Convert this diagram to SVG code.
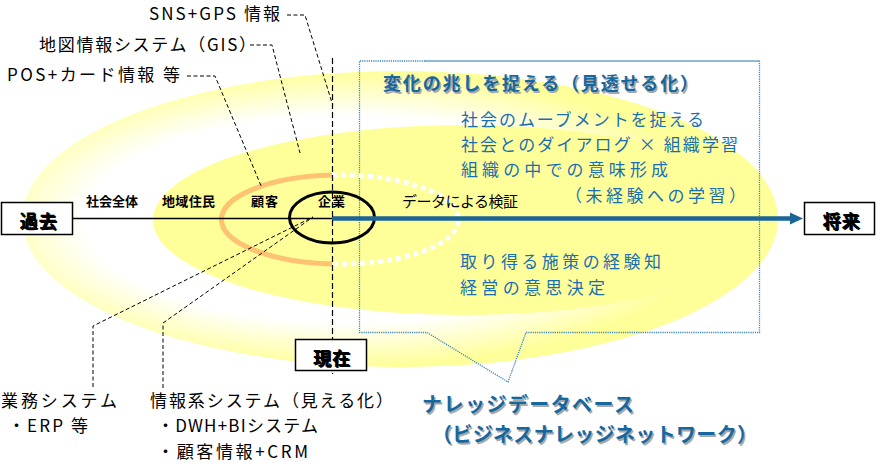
<svg xmlns="http://www.w3.org/2000/svg" width="877" height="465" viewBox="0 0 877 465">
<style>
text{font-family:"Noto Sans CJK JP","Noto Sans",sans-serif;}
.lbl{font-size:17px;fill:#000;}
.blue{font-size:17px;fill:#1a6fb0;}
.head{font-size:18px;font-weight:bold;fill:#17679f;}
.kdb{font-size:20px;font-weight:bold;fill:#17679f;}
.sh{fill:#a8a8a8;}
.bsh{fill:#c4c4c4;}
.ring{font-size:13px;font-weight:bold;fill:#000;}
.box{fill:#fff;stroke:#000;stroke-width:1.5;}
.boxt{font-size:18px;font-weight:bold;fill:#000;text-anchor:middle;}
.lead{fill:none;stroke:#000;stroke-width:1;stroke-dasharray:4 2.5;}
.cdot{fill:none;stroke:#3f86b8;stroke-width:1.3;stroke-dasharray:1.2 1;}
</style>
<defs>
<radialGradient id="outerG" cx="0.43" cy="0.5" r="0.5">
<stop offset="0" stop-color="#ffffff"/>
<stop offset="0.7" stop-color="#ffffff"/>
<stop offset="1" stop-color="#ffff99"/>
</radialGradient>
</defs>
<rect width="877" height="465" fill="#fff"/>
<g id="spheres">
<ellipse cx="400" cy="219" rx="378" ry="148" fill="url(#outerG)"/>
<ellipse cx="464" cy="220" rx="311" ry="95" fill="#ffff99"/>
</g>
<g id="callout">
<path class="cdot" d="M425,61 H359.5 V332.5 H427 L508,382 L526,332.5 H759.5 V61"/>
<line x1="425" y1="61" x2="760" y2="61" stroke="#6aa3c9" stroke-width="1.6"/>
<text class="head sh" x="384.5" y="91.5" textLength="315" lengthAdjust="spacing">変化の兆しを捉える（見透せる化）</text>
<text class="head" x="383" y="90" textLength="315" lengthAdjust="spacing">変化の兆しを捉える（見透せる化）</text>
<text class="blue" x="461" y="126" textLength="243" lengthAdjust="spacing">社会のムーブメントを捉える</text>
<text class="blue" x="461" y="151" textLength="277" lengthAdjust="spacing">社会とのダイアログ × 組織学習</text>
<text class="blue" x="461" y="176" textLength="207" lengthAdjust="spacing">組織の中での意味形成</text>
<text class="blue" x="565" y="202" textLength="181" lengthAdjust="spacing">（未経験への学習）</text>
<text class="blue" x="460" y="268" textLength="201" lengthAdjust="spacing">取り得る施策の経験知</text>
<text class="blue" x="460" y="294" textLength="145" lengthAdjust="spacing">経営の意思決定</text>
</g>
<g id="rings">
<path d="M332,175.1 A118.5,44.5 0 0 0 332,263.9" fill="none" stroke="#fdc272" stroke-width="5"/>
<path d="M332,175.1 A118.5,44.5 0 1 1 332,263.9" fill="none" stroke="#fff" stroke-width="5" stroke-dasharray="5 4"/>
<ellipse cx="332" cy="217.5" rx="42.5" ry="25.5" fill="none" stroke="#000" stroke-width="3"/>
</g>
<g id="connectors">
<line x1="73" y1="218.5" x2="332" y2="218.5" stroke="#000" stroke-width="1.5"/>
<line x1="332" y1="218.5" x2="792" y2="218.5" stroke="#1b6597" stroke-width="4.3"/>
<polygon points="790,212.5 803,218.5 790,224.5" fill="#1b6597"/>
<line x1="332.5" y1="58" x2="332.5" y2="374" stroke="#000" stroke-width="1.2" stroke-dasharray="6 3"/>
<polyline class="lead" points="287,15 305,15 332,103"/>
<polyline class="lead" points="250,45 272,45 300,153"/>
<polyline class="lead" points="187,76 215,76 262,188"/>
<polyline class="lead" points="93,387 93,326 313,217"/>
<polyline class="lead" points="163,388 163,323 313,217"/>
</g>
<g id="ring-labels">
<text class="ring" x="86" y="206" textLength="52" lengthAdjust="spacing">社会全体</text>
<text class="ring" x="162" y="206" textLength="53" lengthAdjust="spacing">地域住民</text>
<text class="ring" x="251" y="206" textLength="27" lengthAdjust="spacing">顧客</text>
<text class="ring" x="318" y="206" textLength="27" lengthAdjust="spacing">企業</text>
<text x="402" y="207" font-size="15" textLength="116" lengthAdjust="spacing">データによる検証</text>
</g>
<g id="top-labels">
<text class="lbl" x="149" y="20" textLength="131" lengthAdjust="spacing">SNS+GPS 情報</text>
<text class="lbl" x="39" y="51" textLength="217" lengthAdjust="spacing">地図情報システム（GIS）</text>
<text class="lbl" x="7" y="81" textLength="173" lengthAdjust="spacing">POS+カード情報 等</text>
</g>
<g id="bottom-labels">
<text class="lbl" x="1" y="407" textLength="116" lengthAdjust="spacing">業務システム</text>
<text class="lbl" x="8" y="432" textLength="80" lengthAdjust="spacing">・ERP 等</text>
<text class="lbl" x="150" y="407" textLength="243" lengthAdjust="spacing">情報系システム（見える化）</text>
<text class="lbl" x="157" y="432" textLength="161" lengthAdjust="spacing">・DWH+BIシステム</text>
<text class="lbl" x="157" y="458" textLength="151" lengthAdjust="spacing">・顧客情報+CRM</text>
</g>
<g id="kdb-title">
<text class="kdb sh" x="423.5" y="413.5" textLength="212" lengthAdjust="spacing">ナレッジデータベース</text>
<text class="kdb" x="422" y="412" textLength="212" lengthAdjust="spacing">ナレッジデータベース</text>
<text class="kdb sh" x="433.5" y="443.5" textLength="325" lengthAdjust="spacing">（ビジネスナレッジネットワーク）</text>
<text class="kdb" x="432" y="442" textLength="325" lengthAdjust="spacing">（ビジネスナレッジネットワーク）</text>
</g>
<g id="past">
<rect class="box" x="1.5" y="202.5" width="71" height="32"/>
<text class="boxt bsh" x="39.2" y="229.2" textLength="37" lengthAdjust="spacing">過去</text>
<text class="boxt" x="38" y="228" textLength="37" lengthAdjust="spacing">過去</text>
</g>
<g id="future">
<rect class="box" x="804.5" y="202.5" width="70" height="32"/>
<text class="boxt bsh" x="842.2" y="229.2" textLength="37" lengthAdjust="spacing">将来</text>
<text class="boxt" x="841" y="228" textLength="37" lengthAdjust="spacing">将来</text>
</g>
<g id="now">
<rect class="box" x="295.5" y="339.5" width="71" height="31"/>
<text class="boxt bsh" x="332.7" y="366.2" textLength="37" lengthAdjust="spacing">現在</text>
<text class="boxt" x="331.5" y="365" textLength="37" lengthAdjust="spacing">現在</text>
</g>
</svg>
